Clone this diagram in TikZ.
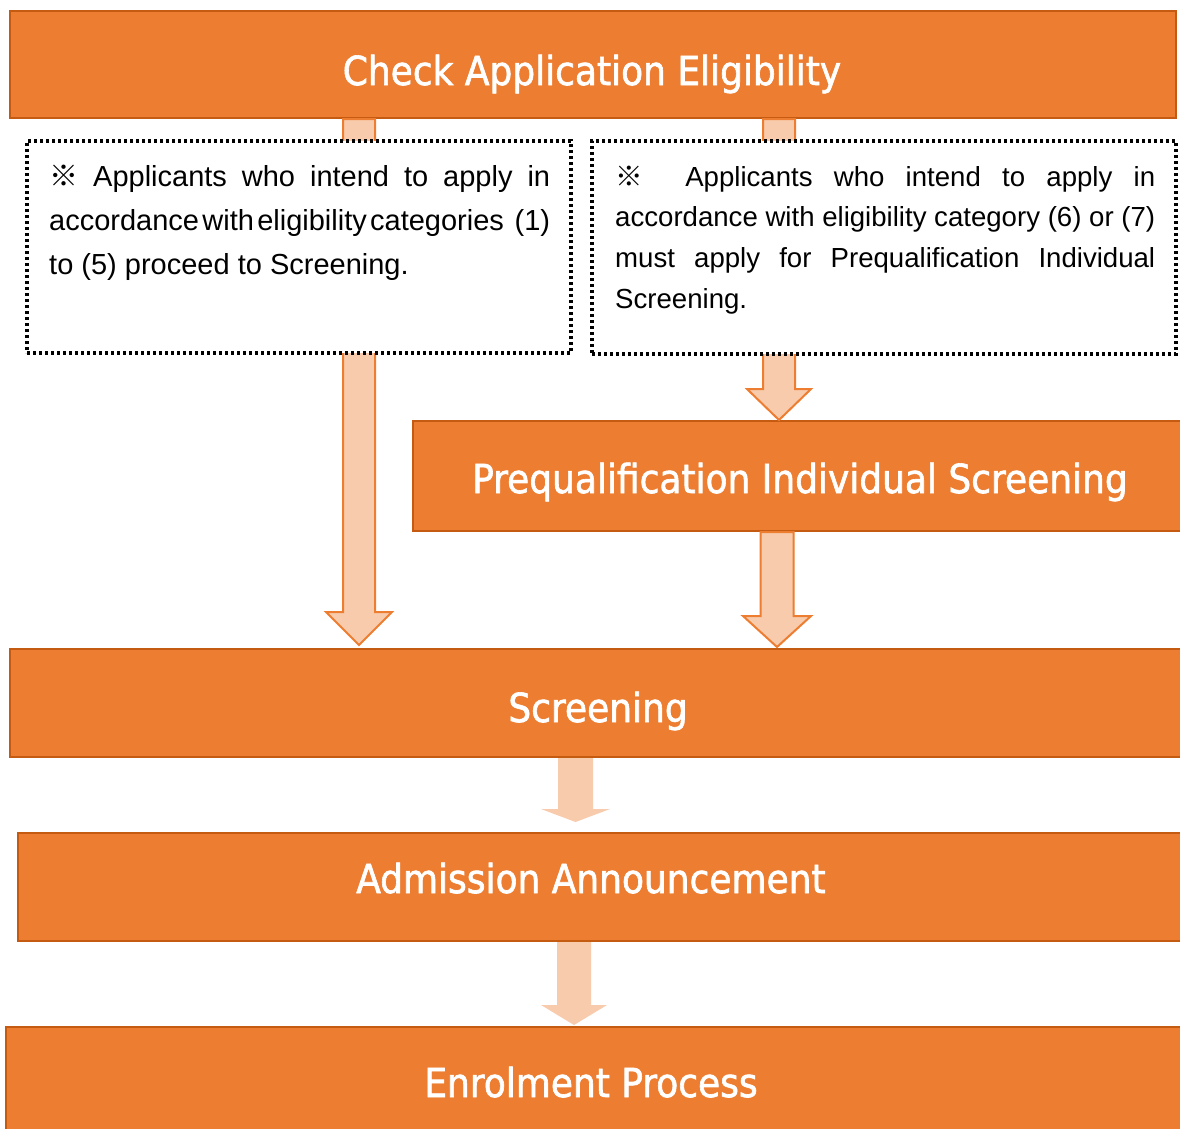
\documentclass[tikz,border=0pt]{standalone}
\usepackage{fontspec}
\setmainfont{Liberation Sans}
\newfontfamily\titlefont[FakeBold=1.6]{DejaVu Sans Condensed}
\newfontfamily\cjkfont{Noto Sans CJK JP}
\usetikzlibrary{calc}

\definecolor{orangefill}{HTML}{ED7D31}
\definecolor{orangeedge}{HTML}{C55A11}
\definecolor{arrowfill}{HTML}{F8CBAD}

\tikzset{
  stagebox/.style={draw=orangeedge, line width=2pt, fill=orangefill, inner sep=0pt},
  stagetext/.style={text=white, anchor=base, inner sep=0pt, font=\titlefont\fontsize{40}{40}\selectfont},
  notebox/.style={draw=black, fill=white, line width=3.2pt, dash pattern=on 3.2pt off 2.8pt, inner sep=0pt},
  notetext/.style={anchor=north west, inner sep=0pt, align=justify},
  fatarrow/.style={draw=orangefill, line width=2pt, fill=arrowfill, line join=miter},
  softarrow/.style={fill=arrowfill},
}

\begin{document}
\begin{tikzpicture}[x=1pt,y=-1pt]

    \useasboundingbox (0,0) rectangle (1180,1128);

    %stage boxes
    \node[stagebox, minimum width=1166pt, minimum height=107pt] (check) at (593,64.5) {};
    \node[stagebox, minimum width=777pt, minimum height=110pt] (prequal) at (801.5,476) {};
    \node[stagebox, minimum width=1180pt, minimum height=108pt] (screen) at (600,703) {};
    \node[stagebox, minimum width=1172pt, minimum height=108pt] (admit) at (604,887) {};
    \node[stagebox, minimum width=1184pt, minimum height=108pt] (enrol) at (598,1081) {};

    %stage labels
    \node[stagetext] (checklabel) at (592,85) {Check Application Eligibility};
    \node[stagetext] (prequallabel) at (800,493) {Prequalification Individual Screening};
    \node[stagetext] (screenlabel) at (598,722) {Screening};
    \node[stagetext] (admitlabel) at (591,893) {Admission Announcement};
    \node[stagetext] (enrollabel) at (591,1097) {Enrolment Process};

    %arrow ends
    \coordinate (a1top) at (359,0 |- check.south);
    \coordinate (a1tip) at ($(359,0 |- screen.north)+(0,-3)$);
    \coordinate (a2top) at (779,0 |- check.south);
    \coordinate (a2tip) at (779,0 |- prequal.north);
    \coordinate (a3top) at (777,0 |- prequal.south);
    \coordinate (a3tip) at ($(777,0 |- screen.north)+(0,-1)$);
    \coordinate (a4top) at (575.5,0 |- screen.south);
    \coordinate (a4tip) at ($(575.5,0 |- admit.north)+(0,-10)$);
    \coordinate (a5top) at (574,0 |- admit.south);
    \coordinate (a5tip) at ($(574,0 |- enrol.north)+(0,-1)$);

    %block arrows
    \draw[fatarrow] ($(a1top)+(-16,0)$) -- ($(a1tip)+(-16,-33)$) -- ($(a1tip)+(-33,-33)$) -- (a1tip)
        -- ($(a1tip)+(33,-33)$) -- ($(a1tip)+(16,-33)$) -- ($(a1top)+(16,0)$) -- cycle;
    \draw[fatarrow] ($(a2top)+(-16,0)$) -- ($(a2tip)+(-16,-31)$) -- ($(a2tip)+(-32,-31)$) -- (a2tip)
        -- ($(a2tip)+(32,-31)$) -- ($(a2tip)+(16,-31)$) -- ($(a2top)+(16,0)$) -- cycle;
    \draw[fatarrow] ($(a3top)+(-16.5,0)$) -- ($(a3tip)+(-16.5,-31)$) -- ($(a3tip)+(-34,-31)$) -- (a3tip)
        -- ($(a3tip)+(34,-31)$) -- ($(a3tip)+(16.5,-31)$) -- ($(a3top)+(16.5,0)$) -- cycle;
    \fill[softarrow] ($(a4top)+(-17.5,0)$) -- ($(a4tip)+(-17.5,-13)$) -- ($(a4tip)+(-34.5,-13)$) -- (a4tip)
        -- ($(a4tip)+(34.5,-13)$) -- ($(a4tip)+(17.5,-13)$) -- ($(a4top)+(17.5,0)$) -- cycle;
    \fill[softarrow] ($(a5top)+(-17,0)$) -- ($(a5tip)+(-17,-20)$) -- ($(a5tip)+(-33,-20)$) -- (a5tip)
        -- ($(a5tip)+(33,-20)$) -- ($(a5tip)+(17,-20)$) -- ($(a5top)+(17,0)$) -- cycle;

    %note boxes
    \node[notebox, minimum width=544pt, minimum height=212pt] (leftnote) at (299,247) {};
    \node[notebox, minimum width=584pt, minimum height=213pt] (rightnote) at (884,247.5) {};

    \node[notetext, text width=501pt, font=\fontsize{29}{44}\selectfont] (lefttext) at (49,155)
        {\noindent\strut{\cjkfont ※} Applicants who intend to apply in\linebreak
         accordance\hspace{2pt plus 2pt}with\hspace{2pt plus 2pt}eligibility\hspace{2pt plus 2pt}categories (1)\linebreak
         to (5) proceed to Screening.};
    \node[notetext, text width=540pt, font=\fontsize{27.6}{40.7}\selectfont] (righttext) at (615,157.5)
        {\noindent\strut{\cjkfont ※}\ \ Applicants who intend to apply in\linebreak
         accordance with eligibility category (6) or (7)\linebreak
         must apply for Prequalification Individual\linebreak
         Screening.};

\end{tikzpicture}
\end{document}
